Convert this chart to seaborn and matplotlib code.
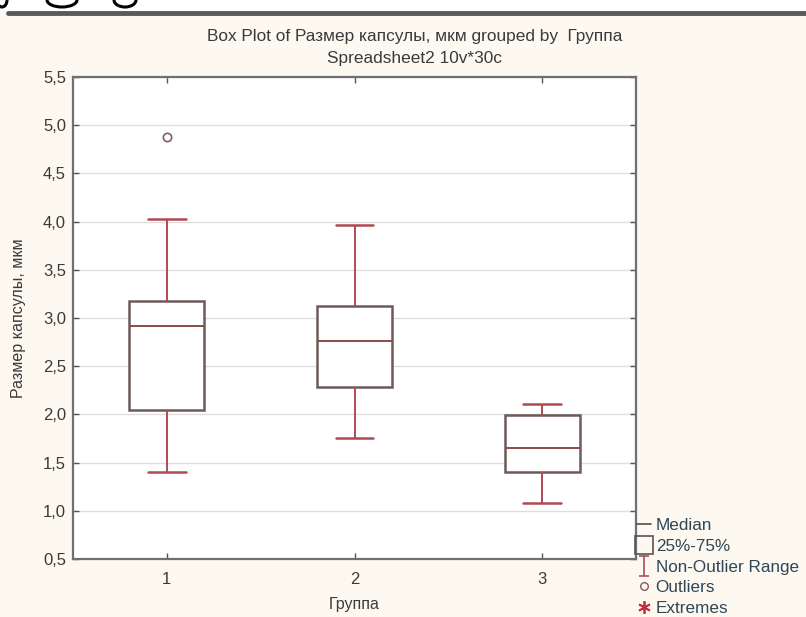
import numpy as np
import pandas as pd
import matplotlib
matplotlib.use("Agg")
import matplotlib.pyplot as plt
import seaborn as sns
from matplotlib.lines import Line2D
from matplotlib.patches import Rectangle, Arc
from matplotlib.path import Path
from matplotlib.ticker import FixedLocator, FuncFormatter

# values per group (10 cases each)
group_labels = ["1", "2", "3"]
group1 = [1.40, 1.75, 2.05, 2.05, 2.85, 2.99, 3.18, 3.18, 4.03, 4.88]
group2 = [1.76, 2.05, 2.28, 2.28, 2.70, 2.82, 3.12, 3.12, 3.45, 3.96]
group3 = [1.08, 1.25, 1.40, 1.40, 1.60, 1.70, 1.99, 1.99, 2.05, 2.11]
y_ticks = [0.5, 1.0, 1.5, 2.0, 2.5, 3.0, 3.5, 4.0, 4.5, 5.0, 5.5]

df = pd.DataFrame({
    "Группа": np.repeat(group_labels, 10),
    "value": group1 + group2 + group3,
})

sns.set_theme(style="white")
plt.rcParams["font.family"] = ["Liberation Sans", "DejaVu Sans"]

cream = "#fdf9f1"
box_col = "#6e5a5a"
red_col = "#b04a52"
txt_col = "#3a3a3a"

fig = plt.figure(figsize=(8.06, 6.17), dpi=100, facecolor=cream)
ax = fig.add_axes([73 / 806, 1 - 559 / 617, 563 / 806, 482 / 617])
ax.set_facecolor("white")

sns.boxplot(
    data=df, x="Группа", y="value", ax=ax,
    width=0.4, whis=1.4, color="white", linewidth=1.6,
    boxprops=dict(edgecolor=box_col, facecolor="white", linewidth=1.8),
    medianprops=dict(color="#8a4a4a", linewidth=1.4),
    whiskerprops=dict(color=red_col, linewidth=1.4),
    capprops=dict(color=red_col, linewidth=1.8),
    flierprops=dict(marker="o", markersize=6, markerfacecolor="none",
                    markeredgecolor="#7d6262", markeredgewidth=1.2),
)

ax.set_xlim(-0.5, 2.5)
ax.set_ylim(0.5, 5.5)
ax.yaxis.set_major_locator(FixedLocator(y_ticks))
ax.yaxis.set_major_formatter(FuncFormatter(lambda v, p: f"{v:.1f}".replace(".", ",")))
ax.grid(axis="y", color="#dedede", linewidth=1)
ax.set_axisbelow(True)

for s in ax.spines.values():
    s.set_visible(True)
    s.set_color("#707070")
    s.set_linewidth(1.6)

ax.tick_params(axis="both", direction="in", length=4, width=1, color="#555555",
               labelsize=12, labelcolor=txt_col, top=True, right=True,
               left=True, bottom=True)
ax.tick_params(axis="y", pad=5)
ax.tick_params(axis="x", pad=9)

ax.set_xlabel("Группа", fontsize=11.5, color=txt_col)
ax.set_ylabel("Размер капсулы, мкм", fontsize=11.5, color=txt_col)
ax.xaxis.set_label_coords(0.5, -0.078)
ax.yaxis.set_label_coords(-0.083, 0.5)

fig.text(0.514, 1 - 37 / 617, "Box Plot of Размер капсулы, мкм grouped by  Группа",
         ha="center", va="center", fontsize=12.4, color=txt_col)
fig.text(0.514, 1 - 58 / 617, "Spreadsheet2 10v*30c",
         ha="center", va="center", fontsize=12.4, color=txt_col)

# screenshot strip at the top
fig.add_artist(Rectangle((0, 1 - 11 / 617), 1, 11 / 617, transform=fig.transFigure,
                         facecolor="white", edgecolor="none"))
fig.add_artist(Line2D([8 / 806, 1], [1 - 13 / 617, 1 - 13 / 617], transform=fig.transFigure,
                      color="#5a5a5a", linewidth=3.5))
for cx, w in [(2, 10), (62, 30), (125, 22)]:
    fig.add_artist(Arc((cx / 806, 1.0), w / 806, 14 / 617, theta1=180, theta2=360,
                       transform=fig.transFigure, color="black", linewidth=2.2))

# legend
ibeam = Path([(-0.5, -1), (0.5, -1), (0, -1), (0, 1), (-0.5, 1), (0.5, 1)],
             [Path.MOVETO, Path.LINETO, Path.MOVETO, Path.LINETO, Path.MOVETO, Path.LINETO])
handles = [
    Line2D([], [], color="#5a4a4a", linewidth=1.2),
    Line2D([], [], marker="s", markersize=13, markerfacecolor="none",
           markeredgecolor="#555555", linestyle="none", markeredgewidth=1.2),
    Line2D([], [], marker=ibeam, markersize=15, color=red_col,
           linestyle="none", markeredgewidth=1.2),
    Line2D([], [], marker="o", markersize=5.5, markerfacecolor="none",
           markeredgecolor="#8a5a5a", linestyle="none"),
    Line2D([], [], marker=(6, 2, 0), markersize=9, color="#c03040",
           linestyle="none", markeredgewidth=1.3),
]
labels = ["Median", "25%-75%", "Non-Outlier Range", "Outliers", "Extremes"]
fig.legend(handles, labels, loc="lower left", bbox_to_anchor=(636 / 806, 0.0),
           frameon=False, fontsize=12.3, labelcolor="#2e4656",
           handlelength=0.8, handletextpad=0.3, labelspacing=0.34,
           borderpad=0.05, borderaxespad=0.0)

fig.savefig("out.png", dpi=100, facecolor=cream)
